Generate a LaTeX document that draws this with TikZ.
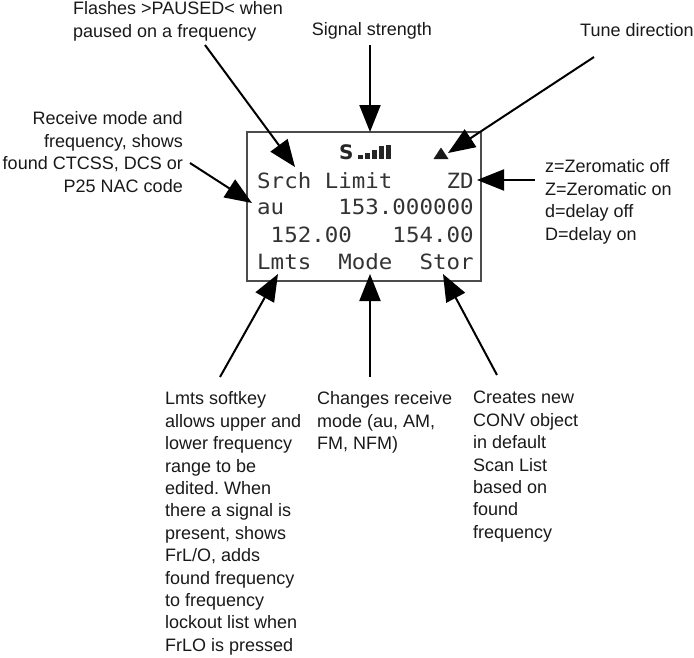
\documentclass[tikz,border=0pt]{standalone}
\usepackage{fontspec}
\setmainfont{Liberation Sans}
\newfontfamily\lcd[FakeStretch=1.07]{DejaVu Sans Mono}
\newfontfamily\dvs{DejaVu Sans}
\usetikzlibrary{arrows.meta}
\frenchspacing
\begin{document}
\begin{tikzpicture}[x=1pt,y=-1pt,
  lbl/.style={inner sep=0pt,align=left,anchor=north west,text=black!90,
    font=\fontsize{18}{22.4}\selectfont},
  lblr/.style={lbl,align=right,anchor=north east},
  lcdrow/.style={inner sep=0pt,anchor=base west,text=black!80,
    font=\lcd\fontsize{21}{27}\selectfont},
  arr/.style={line width=2pt,draw=black,-{Triangle[length=27pt,width=21pt]}},
  screen/.style={draw=black!70,line width=2pt}]
\useasboundingbox (0,0) rectangle (694,657);
% screen
\draw[screen] (247,132) rectangle (481,281);
\node[inner sep=0pt,anchor=base west,font=\dvs\bfseries\fontsize{20}{24}\selectfont,text=black!85] (sig) at (339,159) {S};
\foreach \x/\h in {358/4,365/6,372/9,379/13,386/14}
  \fill[black!85] (\x,159) rectangle ++(5,-\h);
\fill[black!90] (433.5,159) -- (448.5,159) -- (441,147.5) -- cycle;
\node[lcdrow] (r1) at (257,188) {Srch~Limit~~~~ZD};
\node[lcdrow] (r2) at (257,214) {au~~~~153.000000};
\node[lcdrow] (r3) at (257,242) {~152.00~~~154.00};
\node[lcdrow] (r4) at (257,269) {Lmts~~Mode~~Stor};
% labels
\node[lbl] (flash) at (73,-1) {\strut Flashes >PAUSED< when\\paused on a frequency};
\node[lbl,anchor=north] (sigl) at (372,19.5) {\strut Signal strength};
\node[lbl] (tune) at (580,20.5) {\strut Tune direction};
\node[lblr] (recv) at (183,109) {\strut Receive mode and\\frequency, shows\\found CTCSS, DCS or\\P25 NAC code};
\node[lbl] (zed) at (545,157) {\strut z=Zeromatic off\\Z=Zeromatic on\\d=delay off\\D=delay on};
\node[lbl] (lmts) at (165,389) {\strut Lmts softkey\\allows upper and\\lower frequency\\range to be\\edited. When\\there a signal is\\present, shows\\FrL/O, adds\\found frequency\\to frequency\\lockout list when\\FrLO is pressed};
\node[lbl] (mode) at (317,389) {\strut Changes receive\\mode (au, AM,\\FM, NFM)};
\node[lbl] (stor) at (473,388) {\strut Creates new\\CONV object\\in default\\Scan List\\based on\\found\\frequency};
% arrow ends
\coordinate (flashT) at (205,45);   \coordinate (flashH) at (295,167);
\coordinate (sigT) at (370,45);     \coordinate (sigH) at (370,132);
\coordinate (tuneT) at (594,57);    \coordinate (tuneH) at (448,153);
\coordinate (zedT) at (535,180);    \coordinate (zedH) at (477,180);
\coordinate (recvT) at (190,163);   \coordinate (recvH) at (252,203);
\coordinate (lmtsT) at (220,377);   \coordinate (lmtsH) at (278,274);
\coordinate (modeT) at (370,377);   \coordinate (modeH) at (370,274);
\coordinate (storT) at (497,375);   \coordinate (storH) at (443,274);
\draw[arr] (flashT) -- (flashH);
\draw[arr] (sigT) -- (sigH);
\draw[arr] (tuneT) -- (tuneH);
\draw[arr] (zedT) -- (zedH);
\draw[arr] (recvT) -- (recvH);
\draw[arr] (lmtsT) -- (lmtsH);
\draw[arr] (modeT) -- (modeH);
\draw[arr] (storT) -- (storH);
\end{tikzpicture}
\end{document}
